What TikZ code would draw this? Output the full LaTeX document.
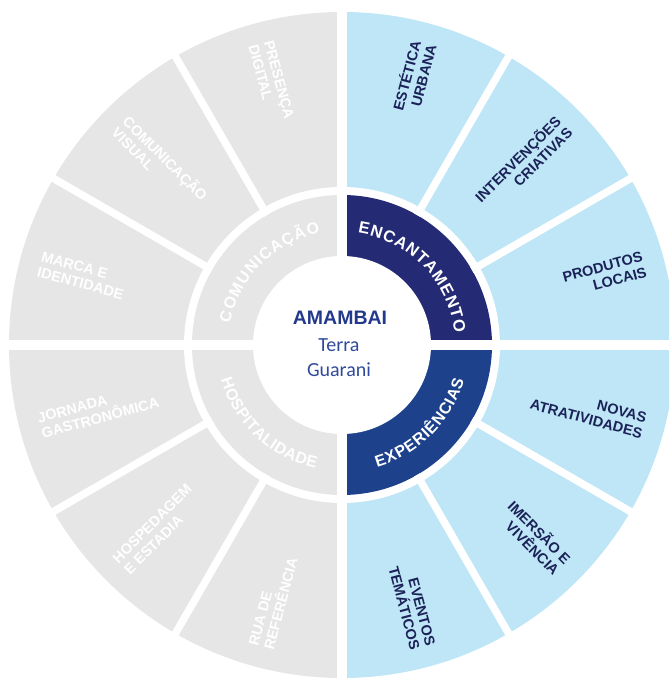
\documentclass[tikz,border=0pt]{standalone}
\usepackage{fontspec}
\setmainfont{Liberation Sans}
\newfontfamily\guaranifont{Carlito}
\usetikzlibrary{decorations.text}
\definecolor{skyfill}{RGB}{190,230,246}
\definecolor{greyfill}{RGB}{230,230,230}
\definecolor{encantonavy}{RGB}{36,42,115}
\definecolor{experblue}{RGB}{29,66,139}
\definecolor{labelnavy}{RGB}{27,34,88}
\definecolor{titleblue}{RGB}{35,57,140}
\definecolor{guaraniblue}{RGB}{48,74,155}

\begin{document}
\begin{tikzpicture}[x=1pt,y=1pt,
  rightlabel/.style={font=\fontsize{14.5}{16}\selectfont\bfseries, text=labelnavy, align=right, anchor=east, inner sep=0pt},
  leftlabel/.style={font=\fontsize{14.5}{16}\selectfont\bfseries, text=white, align=left, anchor=west, inner sep=0pt},
  ringtext/.style={decorate, decoration={text along path, text color=white, text align={fit to path}, text={#1}}},
  gap/.style={white, line width=7.5pt},
  axisgap/.style={white, line width=10pt}]
	\clip (-342,-334) rectangle (327,345);
	\fill[skyfill] (0,0) -- (-90:333) arc[start angle=-90, end angle=90, radius=333] -- cycle;
	\fill[greyfill] (0,0) -- (90:333) arc[start angle=90, end angle=270, radius=333] -- cycle;
	\fill[white] (0,0) circle[radius=158];
	\fill[greyfill] (0,0) -- (90:150) arc[start angle=90, end angle=270, radius=150] -- cycle;
	\fill[encantonavy] (0,0) -- (0:150) arc[start angle=0, end angle=90, radius=150] -- cycle;
	\fill[experblue] (0,0) -- (-90:150) arc[start angle=-90, end angle=0, radius=150] -- cycle;
	\fill[white] (0,0) circle[radius=89];
	\draw[gap] (30:150) -- (30:345);
	\draw[gap] (60:150) -- (60:345);
	\draw[gap] (120:150) -- (120:345);
	\draw[gap] (150:150) -- (150:345);
	\draw[gap] (210:150) -- (210:345);
	\draw[gap] (240:150) -- (240:345);
	\draw[gap] (300:150) -- (300:345);
	\draw[gap] (330:150) -- (330:345);
	\draw[axisgap] (-350,0) -- (350,0);
	\draw[axisgap] (0,-350) -- (0,350);
	\path[ringtext={|\fontsize{16.5}{16.5}\selectfont\bfseries|ENCANTAMENTO}] (82:113) arc[start angle=82, end angle=6, radius=113];
	\path[ringtext={|\fontsize{16}{16}\selectfont\bfseries|EXPERIÊNCIAS}] (-74:127) arc[start angle=-74, end angle=-16, radius=127];
	\path[ringtext={|\fontsize{16}{16}\selectfont\bfseries|COMUNICAÇÃO}] (169:114) arc[start angle=169, end angle=101, radius=114];
	\path[ringtext={|\fontsize{16}{16}\selectfont\bfseries|HOSPITALIDADE}] (196:126) arc[start angle=196, end angle=258, radius=126];
	\node[rightlabel, rotate=75] (estetica) at (75:313) {ESTÉTICA\\URBANA};
	\node[rightlabel, rotate=45] (intervencoes) at (45:313) {INTERVENÇÕES\\CRIATIVAS};
	\node[rightlabel, rotate=15] (produtos) at (15:313) {PRODUTOS\\LOCAIS};
	\node[rightlabel, rotate=-15] (novas) at (-15:313) {NOVAS\\ATRATIVIDADES};
	\node[rightlabel, rotate=-45] (imersao) at (-45:313) {IMERSÃO E\\VIVÊNCIA};
	\node[rightlabel, rotate=-75] (eventos) at (-75:313) {EVENTOS\\TEMÁTICOS};
	\node[leftlabel, rotate=-75] (presenca) at (105:313) {PRESENÇA\\DIGITAL};
	\node[leftlabel, rotate=-45] (visual) at (135:313) {COMUNICAÇÃO\\VISUAL};
	\node[leftlabel, rotate=-15] (marca) at (165:313) {MARCA E\\IDENTIDADE};
	\node[leftlabel, rotate=15] (jornada) at (195:313) {JORNADA\\GASTRONÔMICA};
	\node[leftlabel, rotate=45] (hospedagem) at (225:313) {HOSPEDAGEM\\E ESTADIA};
	\node[leftlabel, rotate=75] (rua) at (255:313) {RUA DE\\REFERÊNCIA};
	\node[anchor=base, font=\fontsize{19.5}{19.5}\selectfont\bfseries, text=titleblue] (amambai) at (-2,20) {AMAMBAI};
	\node[anchor=base, font=\guaranifont\fontsize{20}{20}\selectfont, text=guaraniblue] (terra) at (-3,-7) {Terra};
	\node[anchor=base, font=\guaranifont\fontsize{20}{20}\selectfont, text=guaraniblue] (guarani) at (-3,-32) {Guarani};
\end{tikzpicture}
\end{document}
